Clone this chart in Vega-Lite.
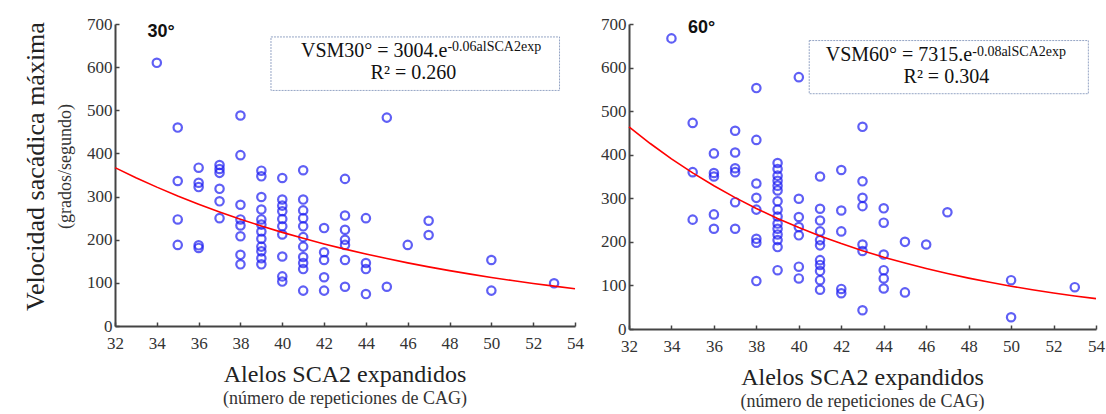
{
  "$schema": "https://vega.github.io/schema/vega-lite/v6.json",
  "background": "white",
  "padding": {"left": 22, "top": 15, "right": 4, "bottom": 2},
  "config": {
    "view": {"stroke": null},
    "font": "Liberation Serif",
    "axis": {"grid": false, "domainColor": "#444", "domainWidth": 2, "tickColor": "#444", "tickSize": -4, "tickWidth": 1.5,
      "labelFont": "Liberation Serif", "labelFontSize": 17, "labelColor": "#333", "labelPadding": 7, "labelOverlap": false, "labelFlush": false, "title": null}
  },
  "datasets": {
    "pts30": [
      {"a":34,"v":610},
      {"a":35,"v":460},{"a":35,"v":336},{"a":35,"v":247},{"a":35,"v":188},
      {"a":36,"v":367},{"a":36,"v":332},{"a":36,"v":322},{"a":36,"v":187},{"a":36,"v":181},
      {"a":37,"v":373},{"a":37,"v":364},{"a":37,"v":355},{"a":37,"v":318},{"a":37,"v":289},{"a":37,"v":250},
      {"a":38,"v":488},{"a":38,"v":396},{"a":38,"v":281},{"a":38,"v":247},{"a":38,"v":233},{"a":38,"v":208},{"a":38,"v":165},{"a":38,"v":143},
      {"a":39,"v":360},{"a":39,"v":347},{"a":39,"v":299},{"a":39,"v":270},{"a":39,"v":247},{"a":39,"v":235},{"a":39,"v":219},{"a":39,"v":202},{"a":39,"v":184},{"a":39,"v":173},{"a":39,"v":157},{"a":39,"v":143},
      {"a":40,"v":343},{"a":40,"v":293},{"a":40,"v":279},{"a":40,"v":266},{"a":40,"v":248},{"a":40,"v":231},{"a":40,"v":212},{"a":40,"v":161},{"a":40,"v":115},{"a":40,"v":103},
      {"a":41,"v":361},{"a":41,"v":293},{"a":41,"v":268},{"a":41,"v":250},{"a":41,"v":231},{"a":41,"v":206},{"a":41,"v":184},{"a":41,"v":160},{"a":41,"v":146},{"a":41,"v":132},{"a":41,"v":82},
      {"a":42,"v":227},{"a":42,"v":171},{"a":42,"v":153},{"a":42,"v":113},{"a":42,"v":82},
      {"a":43,"v":341},{"a":43,"v":256},{"a":43,"v":223},{"a":43,"v":200},{"a":43,"v":188},{"a":43,"v":153},{"a":43,"v":91},
      {"a":44,"v":250},{"a":44,"v":146},{"a":44,"v":132},{"a":44,"v":74},
      {"a":45,"v":483},{"a":45,"v":91},
      {"a":46,"v":188},
      {"a":47,"v":244},{"a":47,"v":211},
      {"a":50,"v":153},{"a":50,"v":82},
      {"a":53,"v":99}
    ],
    "fit30": [
      {"a":32,"v":367.1},{"a":33,"v":343.8},{"a":34,"v":321.9},{"a":35,"v":301.4},{"a":36,"v":282.3},{"a":37,"v":264.3},{"a":38,"v":247.5},{"a":39,"v":231.8},{"a":40,"v":217.0},{"a":41,"v":203.2},{"a":42,"v":190.3},{"a":43,"v":178.2},{"a":44,"v":166.9},{"a":45,"v":156.3},{"a":46,"v":146.3},{"a":47,"v":137.0},{"a":48,"v":128.3},{"a":49,"v":120.2},{"a":50,"v":112.5},{"a":51,"v":105.4},{"a":52,"v":98.7},{"a":53,"v":92.4},{"a":54,"v":86.5}
    ],
    "pts60": [
      {"a":34,"v":667},
      {"a":35,"v":473},{"a":35,"v":360},{"a":35,"v":251},
      {"a":36,"v":403},{"a":36,"v":358},{"a":36,"v":350},{"a":36,"v":263},{"a":36,"v":230},
      {"a":37,"v":455},{"a":37,"v":405},{"a":37,"v":369},{"a":37,"v":360},{"a":37,"v":291},{"a":37,"v":230},
      {"a":38,"v":553},{"a":38,"v":434},{"a":38,"v":334},{"a":38,"v":301},{"a":38,"v":274},{"a":38,"v":207},{"a":38,"v":198},{"a":38,"v":110},
      {"a":39,"v":381},{"a":39,"v":367},{"a":39,"v":352},{"a":39,"v":340},{"a":39,"v":329},{"a":39,"v":318},{"a":39,"v":293},{"a":39,"v":274},{"a":39,"v":258},{"a":39,"v":242},{"a":39,"v":230},{"a":39,"v":217},{"a":39,"v":204},{"a":39,"v":188},{"a":39,"v":135},
      {"a":40,"v":578},{"a":40,"v":299},{"a":40,"v":257},{"a":40,"v":234},{"a":40,"v":215},{"a":40,"v":143},{"a":40,"v":116},
      {"a":41,"v":350},{"a":41,"v":276},{"a":41,"v":249},{"a":41,"v":224},{"a":41,"v":204},{"a":41,"v":192},{"a":41,"v":158},{"a":41,"v":147},{"a":41,"v":133},{"a":41,"v":112},{"a":41,"v":90},
      {"a":42,"v":365},{"a":42,"v":272},{"a":42,"v":224},{"a":42,"v":92},{"a":42,"v":82},
      {"a":43,"v":464},{"a":43,"v":339},{"a":43,"v":301},{"a":43,"v":282},{"a":43,"v":194},{"a":43,"v":179},{"a":43,"v":43},
      {"a":44,"v":277},{"a":44,"v":244},{"a":44,"v":171},{"a":44,"v":135},{"a":44,"v":116},{"a":44,"v":93},
      {"a":45,"v":200},{"a":45,"v":84},
      {"a":46,"v":194},
      {"a":47,"v":268},
      {"a":50,"v":112},{"a":50,"v":27},
      {"a":53,"v":96}
    ],
    "fit60": [
      {"a":32,"v":464.0},{"a":33,"v":425.7},{"a":34,"v":390.5},{"a":35,"v":358.3},{"a":36,"v":328.7},{"a":37,"v":301.5},{"a":38,"v":276.6},{"a":39,"v":253.8},{"a":40,"v":232.8},{"a":41,"v":213.6},{"a":42,"v":196.0},{"a":43,"v":179.8},{"a":44,"v":164.9},{"a":45,"v":151.3},{"a":46,"v":138.8},{"a":47,"v":127.4},{"a":48,"v":116.8},{"a":49,"v":107.2},{"a":50,"v":98.3},{"a":51,"v":90.2},{"a":52,"v":82.8},{"a":53,"v":75.9},{"a":54,"v":69.7}
    ],
    "one": [{"k":1}]
  },
  "spacing": 16,
  "hconcat": [
    {
      "title": {"text": "Velocidad sacádica máxima", "subtitle": "(grados/segundo)", "orient": "left", "anchor": "middle", "dx": 45,
        "font": "Liberation Serif", "fontSize": 26, "fontWeight": "normal", "color": "#222",
        "subtitleFont": "Liberation Serif", "subtitleFontSize": 18, "subtitleColor": "#333", "subtitlePadding": 8, "offset": 12},
      "hconcat": [
        {
          "width": 460, "height": 302,
          "title": {"text": "Alelos SCA2 expandidos", "subtitle": "(número de repeticiones de CAG)", "orient": "bottom", "anchor": "middle",
            "font": "Liberation Serif", "fontSize": 24, "fontWeight": "normal", "color": "#222",
            "subtitleFont": "Liberation Serif", "subtitleFontSize": 18, "subtitleColor": "#333", "subtitlePadding": 3, "offset": 12},
          "layer": [
            {"data": {"name": "pts30"}, "mark": {"type": "point", "shape": "circle", "filled": false, "color": "#1c1cf2", "size": 70, "strokeWidth": 2.2},
              "encoding": {
                "x": {"field": "a", "type": "quantitative", "scale": {"domain": [32, 54], "nice": false, "zero": false},
                  "axis": {"labelOverlap": false, "labelPadding": 13, "values": [32,33,34,35,36,37,38,39,40,41,42,43,44,45,46,47,48,49,50,51,52,53,54], "labelExpr": "datum.value % 2 === 0 ? datum.label : ''"}},
                "y": {"field": "v", "type": "quantitative", "scale": {"domain": [0, 700], "nice": false},
                  "axis": {"labelOverlap": false, "values": [0,100,200,300,400,500,600,700]}}
              }},
            {"data": {"name": "fit30"}, "mark": {"type": "line", "color": "#ff0000", "strokeWidth": 1.6},
              "encoding": {"x": {"field": "a", "type": "quantitative"}, "y": {"field": "v", "type": "quantitative"}}},
            {"data": {"name": "one"}, "mark": {"type": "rect", "fill": "white", "stroke": "#95a5c5", "strokeWidth": 1, "strokeDash": [2, 1]},
              "encoding": {"x": {"datum": 39.46}, "x2": {"datum": 53.26}, "y": {"datum": 670}, "y2": {"datum": 546}}},
            {"data": {"name": "one"}, "mark": {"type": "text", "text": "VSM30° = 3004.e", "align": "right", "baseline": "alphabetic", "font": "Liberation Serif", "fontSize": 20, "color": "#111"},
              "encoding": {"x": {"datum": 47.9}, "y": {"datum": 623}}},
            {"data": {"name": "one"}, "mark": {"type": "text", "text": "-0.06alSCA2exp", "align": "left", "baseline": "alphabetic", "font": "Liberation Serif", "fontSize": 14, "color": "#111"},
              "encoding": {"x": {"datum": 47.9}, "y": {"datum": 637}}},
            {"data": {"name": "one"}, "mark": {"type": "text", "text": "R² = 0.260", "align": "center", "baseline": "alphabetic", "font": "Liberation Serif", "fontSize": 20, "color": "#111"},
              "encoding": {"x": {"datum": 46.27}, "y": {"datum": 572}}},
            {"data": {"name": "one"}, "mark": {"type": "text", "text": "30°", "align": "left", "baseline": "alphabetic", "font": "Liberation Sans", "fontWeight": "bold", "fontSize": 18, "color": "#111"},
              "encoding": {"x": {"datum": 33.55}, "y": {"datum": 670}}}
          ]
        }
      ]
    },
    {
      "width": 467, "height": 305,
      "title": {"text": "Alelos SCA2 expandidos", "subtitle": "(número de repeticiones de CAG)", "orient": "bottom", "anchor": "middle",
        "font": "Liberation Serif", "fontSize": 24, "fontWeight": "normal", "color": "#222",
        "subtitleFont": "Liberation Serif", "subtitleFontSize": 18, "subtitleColor": "#333", "subtitlePadding": 3, "offset": 12},
      "layer": [
        {"data": {"name": "pts60"}, "mark": {"type": "point", "shape": "circle", "filled": false, "color": "#1c1cf2", "size": 70, "strokeWidth": 2.2},
          "encoding": {
            "x": {"field": "a", "type": "quantitative", "scale": {"domain": [32, 54], "nice": false, "zero": false},
              "axis": {"labelOverlap": false, "labelPadding": 13, "values": [32,33,34,35,36,37,38,39,40,41,42,43,44,45,46,47,48,49,50,51,52,53,54], "labelExpr": "datum.value % 2 === 0 ? datum.label : ''"}},
            "y": {"field": "v", "type": "quantitative", "scale": {"domain": [0, 700], "nice": false},
              "axis": {"labelOverlap": false, "values": [0,100,200,300,400,500,600,700]}}
          }},
        {"data": {"name": "fit60"}, "mark": {"type": "line", "color": "#ff0000", "strokeWidth": 1.6},
          "encoding": {"x": {"field": "a", "type": "quantitative"}, "y": {"field": "v", "type": "quantitative"}}},
        {"data": {"name": "one"}, "mark": {"type": "rect", "fill": "white", "stroke": "#95a5c5", "strokeWidth": 1, "strokeDash": [2, 1]},
          "encoding": {"x": {"datum": 40.49}, "x2": {"datum": 53.64}, "y": {"datum": 662}, "y2": {"datum": 540}}},
        {"data": {"name": "one"}, "mark": {"type": "text", "text": "VSM60° = 7315.e", "align": "right", "baseline": "alphabetic", "font": "Liberation Serif", "fontSize": 20, "color": "#111"},
          "encoding": {"x": {"datum": 48.17}, "y": {"datum": 614}}},
        {"data": {"name": "one"}, "mark": {"type": "text", "text": "-0.08alSCA2exp", "align": "left", "baseline": "alphabetic", "font": "Liberation Serif", "fontSize": 14, "color": "#111"},
          "encoding": {"x": {"datum": 48.17}, "y": {"datum": 627}}},
        {"data": {"name": "one"}, "mark": {"type": "text", "text": "R² = 0.304", "align": "center", "baseline": "alphabetic", "font": "Liberation Serif", "fontSize": 20, "color": "#111"},
          "encoding": {"x": {"datum": 46.95}, "y": {"datum": 565}}},
        {"data": {"name": "one"}, "mark": {"type": "text", "text": "60°", "align": "left", "baseline": "alphabetic", "font": "Liberation Sans", "fontWeight": "bold", "fontSize": 18, "color": "#111"},
          "encoding": {"x": {"datum": 34.78}, "y": {"datum": 680}}}
      ]
    }
  ]
}
